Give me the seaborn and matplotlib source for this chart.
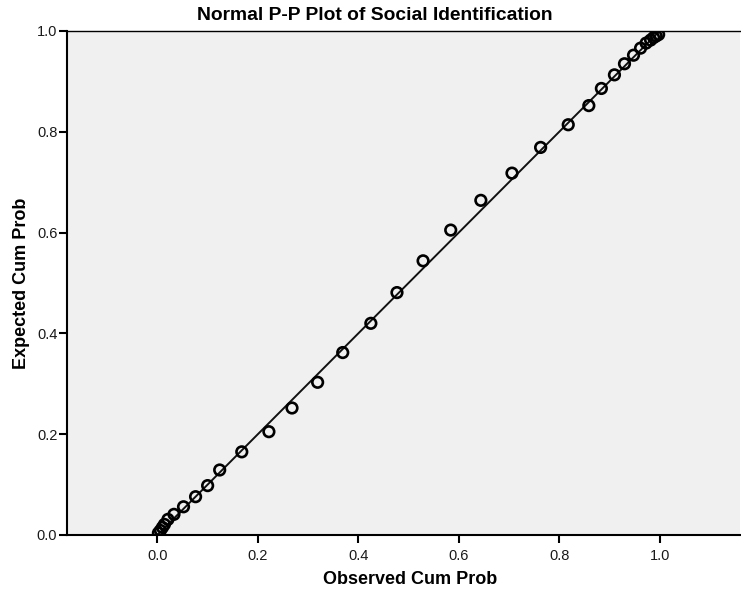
import matplotlib
matplotlib.use("Agg")
import matplotlib.pyplot as plt
import seaborn as sns
import pandas as pd

# Observed vs expected cumulative probabilities (Social Identification)
observed = [0.002, 0.006, 0.010, 0.014, 0.021, 0.033, 0.052, 0.076, 0.100,
            0.124, 0.168, 0.222, 0.268, 0.319, 0.369, 0.425, 0.477, 0.529,
            0.584, 0.644, 0.706, 0.763, 0.818, 0.859, 0.884, 0.910, 0.930,
            0.948, 0.962, 0.973, 0.982, 0.988, 0.993, 0.998]
expected = [0.004, 0.009, 0.015, 0.021, 0.031, 0.041, 0.056, 0.076, 0.098,
            0.129, 0.165, 0.205, 0.252, 0.303, 0.362, 0.420, 0.481, 0.544,
            0.605, 0.664, 0.718, 0.769, 0.814, 0.852, 0.886, 0.913, 0.935,
            0.952, 0.966, 0.976, 0.982, 0.987, 0.990, 0.993]
ref_line = [0.0, 1.0]
tick_values = [0.0, 0.2, 0.4, 0.6, 0.8, 1.0]
tick_labels = ["0.0", "0.2", "0.4", "0.6", "0.8", "1.0"]

df = pd.DataFrame({"Observed Cum Prob": observed, "Expected Cum Prob": expected})
line_df = pd.DataFrame({"x": ref_line, "y": ref_line})

sns.set_theme(style="white")
plt.rcParams["font.family"] = ["Liberation Sans", "DejaVu Sans"]
plt.rcParams["text.color"] = "black"

W, H = 741, 594
fig = plt.figure(figsize=(W / 100, H / 100), dpi=100)
fig.patch.set_facecolor("white")
ax = fig.add_axes([67 / W, 1 - 535 / H, (740 - 67) / W, (535 - 31) / H])
ax.set_facecolor("#f0f0f0")

sns.lineplot(data=line_df, x="x", y="y", ax=ax, color="#111111", linewidth=1.4,
             zorder=2)
sns.scatterplot(data=df, x="Observed Cum Prob", y="Expected Cum Prob", ax=ax,
                s=58, marker="o", facecolor="none", edgecolor="black",
                linewidth=1.9, zorder=3)

ax.set_xlim(-0.18, 1.16)
ax.set_ylim(0.0, 1.0)
ax.set_xticks(tick_values)
ax.set_xticklabels(tick_labels)
ax.set_yticks(tick_values)
ax.set_yticklabels(tick_labels)

for side in ["left", "bottom"]:
    ax.spines[side].set_color("black")
    ax.spines[side].set_linewidth(1.5)
ax.spines["top"].set_color("black")
ax.spines["top"].set_linewidth(1.0)
ax.spines["right"].set_visible(False)

ax.tick_params(axis="both", which="major", direction="out", length=6, width=1.5,
               color="black", labelsize=10.5, labelcolor="#1a1a1a")
ax.tick_params(axis="x", pad=4, bottom=True)
ax.tick_params(axis="y", pad=1, left=True)

ax.set_xlabel("")
ax.set_ylabel("")
fig.text(410 / W, 1 - 580 / H, "Observed Cum Prob", ha="center", va="center",
         fontsize=13, fontweight="bold")
fig.text(22 / W, 1 - 283 / H, "Expected Cum Prob", ha="center", va="center",
         rotation=90, fontsize=13, fontweight="bold")
fig.text(375 / W, 1 - 16 / H, "Normal P-P Plot of Social Identification",
         ha="center", va="center", fontsize=13.9, fontweight="bold")

fig.savefig("out.png", dpi=100)
